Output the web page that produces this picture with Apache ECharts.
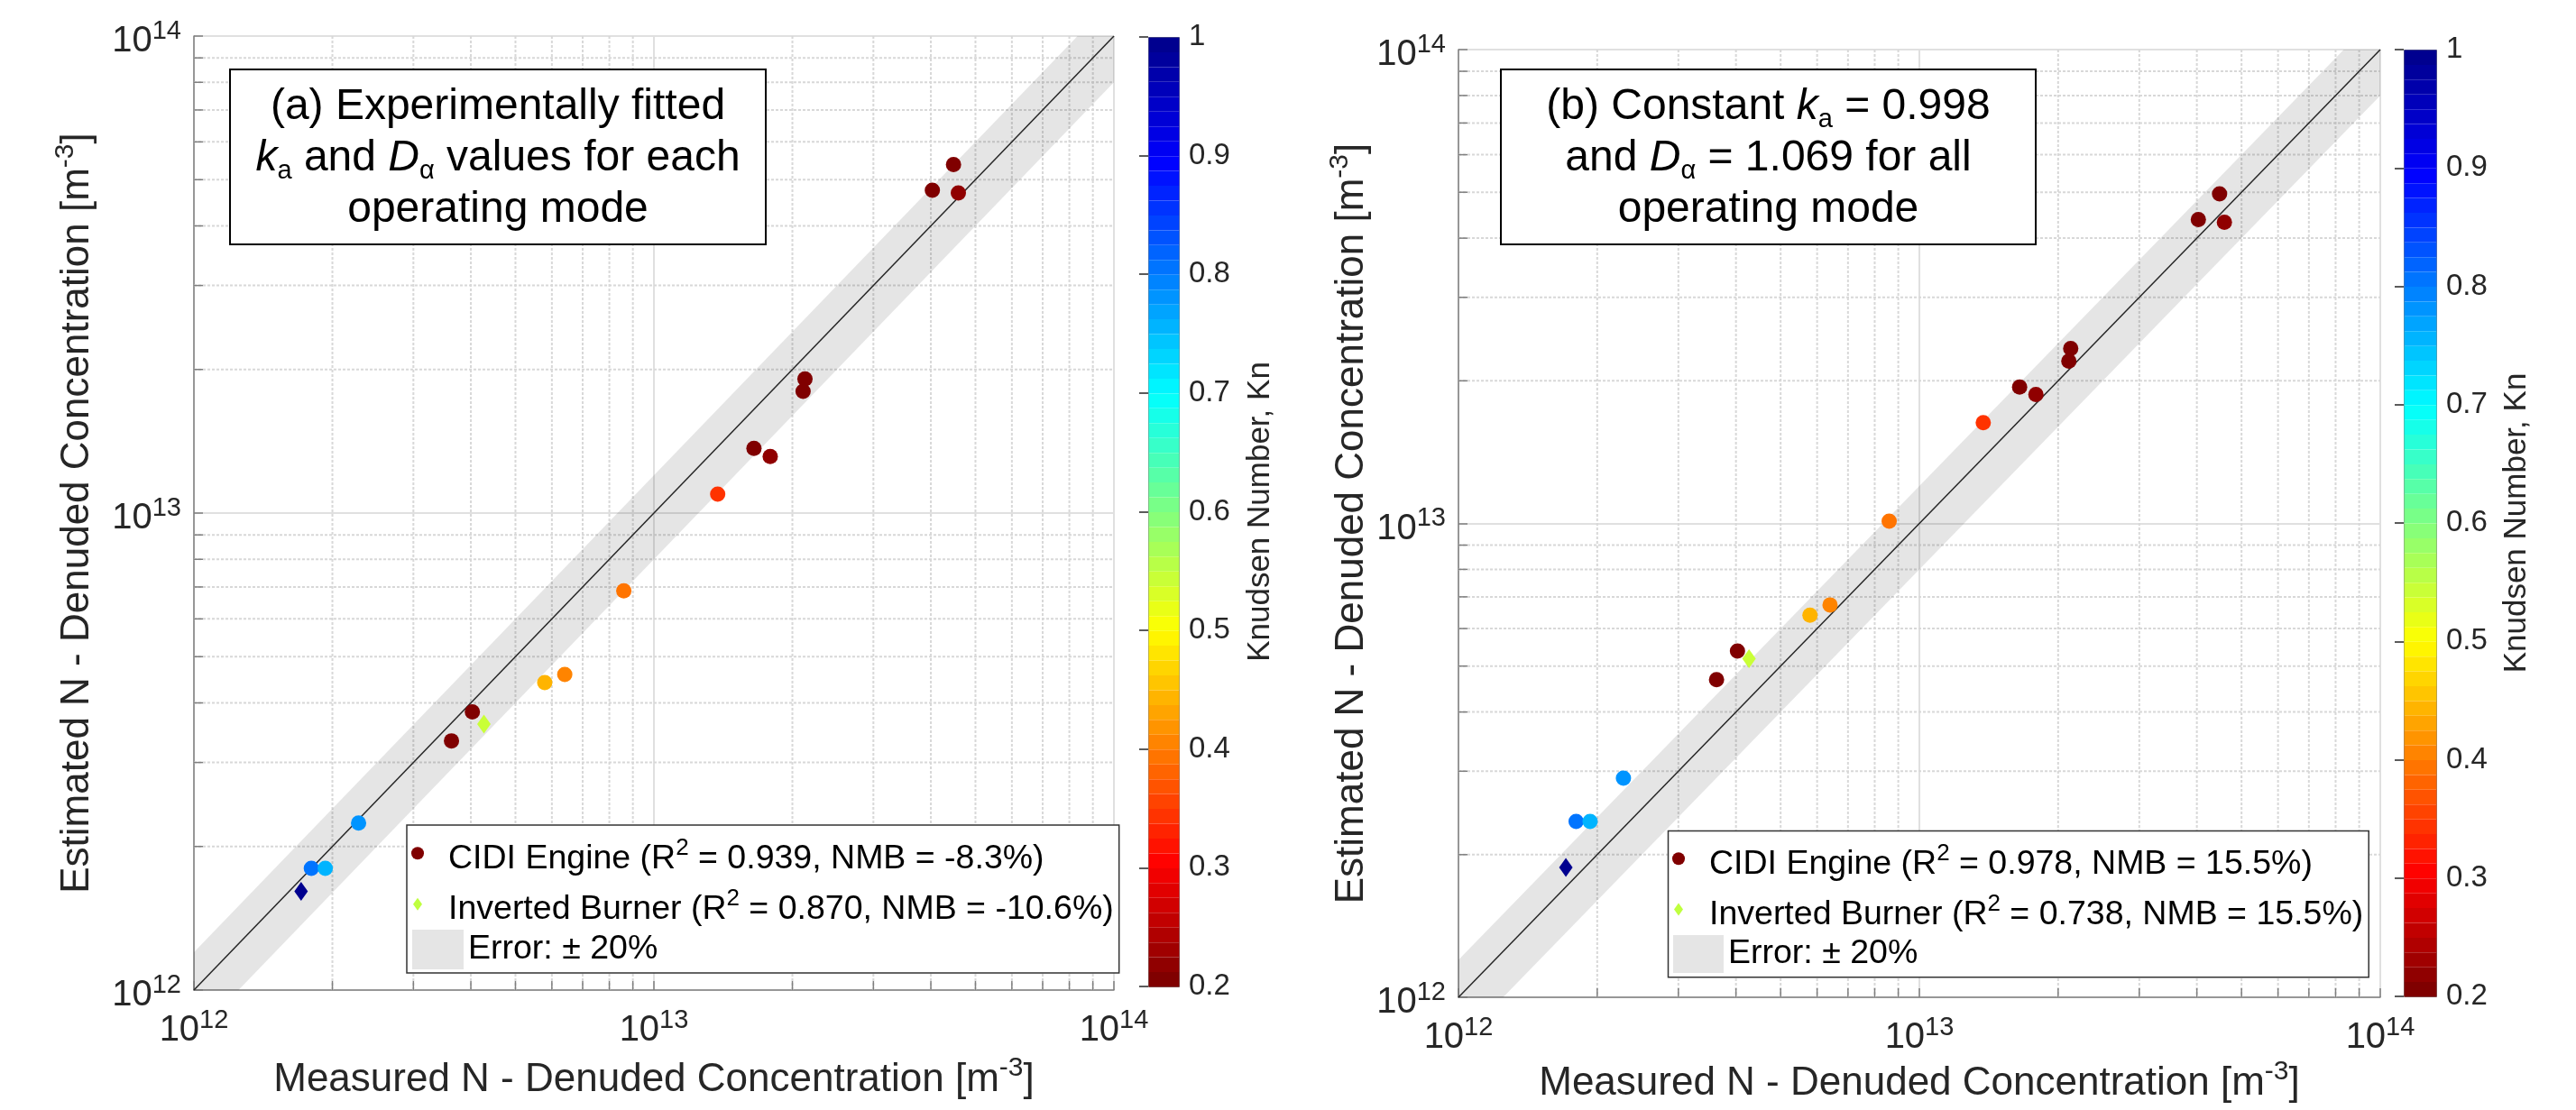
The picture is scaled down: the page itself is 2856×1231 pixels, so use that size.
<!DOCTYPE html>
<html><head><meta charset="utf-8">
<script src="https://cdn.jsdelivr.net/npm/echarts@6/dist/echarts.min.js"></script>
<style>html,body{margin:0;padding:0;background:#fff}#c{width:2856px;height:1231px}</style>
</head><body><div id="c"></div>
<script>
const FONT = '"Liberation Sans", Arial, Helvetica, sans-serif';

// ---- data ----
const cidiMeasured   = [1.80e12, 1.93e12, 2.28e12, 3.63e12, 4.03e12, 5.79e12, 6.40e12, 8.60e12, 1.376e13, 1.65e13, 1.79e13, 2.13e13, 2.11e13, 4.03e13, 4.48e13, 4.59e13];
const cidiKn         = [0.80, 0.76, 0.785, 0.20, 0.20, 0.44, 0.41, 0.40, 0.34, 0.20, 0.22, 0.20, 0.21, 0.20, 0.20, 0.22];
const cidiEstimatedA = [1.80e12, 1.80e12, 2.24e12, 3.33e12, 3.83e12, 4.41e12, 4.59e12, 6.87e12, 1.096e13, 1.366e13, 1.314e13, 1.91e13, 1.80e13, 4.75e13, 5.38e13, 4.69e13];
const cidiEstimatedB = [2.35e12, 2.35e12, 2.90e12, 4.68e12, 5.38e12, 6.40e12, 6.73e12, 1.011e13, 1.632e13, 1.941e13, 1.872e13, 2.34e13, 2.20e13, 4.38e13, 4.96e13, 4.32e13];
const ibMeasured     = [1.71e12, 4.27e12];
const ibKn           = [1.00, 0.55];
const ibEstimatedA   = [1.61e12, 3.61e12];
const ibEstimatedB   = [1.88e12, 5.18e12];

const axisRange   = [1e12, 1e14];
const majorTicks  = [1e12, 1e13, 1e14];
const minorTicks  = [2e12, 3e12, 4e12, 5e12, 6e12, 7e12, 8e12, 9e12, 2e13, 3e13, 4e13, 5e13, 6e13, 7e13, 8e13, 9e13];
const errorBand   = [0.8, 1.2];           // ±20 %
const knRange     = [0.2, 1.0];
const knTickStep  = 0.1;
const colorLevels = 64;
const jetColors   = ['#800000','#ff0000','#ff8000','#ffff00','#80ff80','#00ffff','#0080ff','#0000ff','#00008f'];

const legendA = ['CIDI Engine (R2 = 0.939, NMB = -8.3%)', 'Inverted Burner (R2 = 0.870, NMB = -10.6%)'];
const legendB = ['CIDI Engine (R2 = 0.978, NMB = 15.5%)', 'Inverted Burner (R2 = 0.738, NMB = 15.5%)'];
const errorName = 'Error: \u00b1 20%';
const xName = 'Measured N - Denuded Concentration';
const yName = 'Estimated N - Denuded Concentration';
const cbName = 'Knudsen Number, Kn';

// ---- helpers ----
const TXT = '#262626';
const tickRich = {
  b: {fontSize: 40, lineHeight: 40, padding: [12,0,0,0], fontFamily: FONT, color: TXT},
  s: {fontSize: 29, lineHeight: 29, verticalAlign: 'top', fontFamily: FONT, color: TXT}
};
const nameRich = {
  b: {fontSize: 44, lineHeight: 44, padding: [12,0,0,0], fontFamily: FONT, color: TXT},
  s: {fontSize: 30, lineHeight: 30, verticalAlign: 'top', fontFamily: FONT, color: TXT}
};
const legRich = {
  t: {fontSize: 37.5, lineHeight: 37.5, padding: [12,0,0,0], fontFamily: FONT, color: '#000'},
  sup: {fontSize: 26, lineHeight: 26, verticalAlign: 'top', fontFamily: FONT, color: '#000'}
};
const logLabel = v => '{b|10}{s|' + Math.round(Math.log10(v)) + '}';
const unitName = base => '{b|' + base + ' [m}{s|-3}{b|]}';
const legFmt = name => {
  const i = name.indexOf('(R2');
  if (i < 0) return '{t|' + name + '}';
  return '{t|' + name.slice(0, i + 2) + '}{sup|2}{t|' + name.slice(i + 3) + '}';
};

function mainAxes(gi, ynameGap, xnameGap) {
  const common = {
    type: 'log', logBase: 10, gridIndex: gi, min: axisRange[0], max: axisRange[1],
    axisLine: {lineStyle: {color: '#7f7f7f', width: 1.5}},
    axisTick: {inside: true, length: 10, lineStyle: {color: '#7f7f7f', width: 1.5}},
    splitLine: {show: true, lineStyle: {color: '#e0e0e0', width: 2}},
    nameLocation: 'middle', nameMoveOverlap: false,
    nameTextStyle: {rich: nameRich, fontFamily: FONT, color: TXT}
  };
  return {
    x: Object.assign({}, common, {
      axisLabel: {margin: 19, formatter: logLabel, rich: tickRich, showMinLabel: true, showMaxLabel: true, hideOverlap: false},
      name: unitName(xName), nameGap: xnameGap
    }),
    y: Object.assign({}, common, {
      axisLabel: {margin: 14, formatter: logLabel, rich: tickRich, showMinLabel: true, showMaxLabel: true, hideOverlap: false},
      name: unitName(yName), nameGap: ynameGap, nameRotate: 90
    })
  };
}

function minorSeries(gi) {
  return {
    type: 'custom', xAxisIndex: gi, yAxisIndex: gi, z: 1, silent: true,
    data: minorTicks.map(v => [v, v]),
    renderItem(params, api) {
      const v = api.value(0);
      const cs = params.coordSys;
      const px = api.coord([v, axisRange[0]])[0];
      const py = api.coord([axisRange[0], v])[1];
      const grid = {stroke: '#d8d8d8', lineWidth: 2, lineDash: [3, 2]};
      const tick = {stroke: '#7f7f7f', lineWidth: 1.5};
      return {type: 'group', children: [
        {type: 'line', shape: {x1: px, y1: cs.y, x2: px, y2: cs.y + cs.height}, style: grid},
        {type: 'line', shape: {x1: cs.x, y1: py, x2: cs.x + cs.width, y2: py}, style: grid},
        {type: 'line', shape: {x1: px, y1: cs.y + cs.height, x2: px, y2: cs.y + cs.height - 10}, style: tick},
        {type: 'line', shape: {x1: cs.x, y1: py, x2: cs.x + 10, y2: py}, style: tick}
      ]};
    }
  };
}
function bandSeries(gi) {
  return {
    type: 'custom', name: errorName, xAxisIndex: gi, yAxisIndex: gi, z: 2, silent: true,
    itemStyle: {color: '#e5e5e5'},
    data: [[axisRange[0], axisRange[0]]],
    renderItem(params, api) {
      const lo = errorBand[0], hi = errorBand[1], a = axisRange[0], b = axisRange[1];
      const pts = [[a, a * hi], [b / hi, b], [b, b], [b, b * lo], [a / lo, a], [a, a]].map(p => api.coord(p));
      return {type: 'polygon', shape: {points: pts}, style: {fill: 'rgba(0,0,0,0.1)'}};
    }
  };
}
function diagSeries(gi) {
  return {type: 'line', xAxisIndex: gi, yAxisIndex: gi, z: 3, silent: true, symbol: 'none',
    data: [[axisRange[0], axisRange[0]], [axisRange[1], axisRange[1]]],
    lineStyle: {color: '#262626', width: 1.5}};
}
function scatter(gi, name, xs, ys, ks, symbol, size, color) {
  return {type: 'scatter', name, xAxisIndex: gi, yAxisIndex: gi, z: 5, symbol, symbolSize: size,
    itemStyle: {color, opacity: 1}, data: xs.map((x, i) => [x, ys[i], ks[i]])};
}

const axA = mainAxes(0, 113, 72);
const axB = mainAxes(1, 102, 68);

function cbAxis(gi, gap) {
  return {type: 'value', gridIndex: gi, position: 'right', min: knRange[0], max: knRange[1], interval: knTickStep, z: 10,
    axisLine: {show: false}, splitLine: {show: false},
    axisTick: {show: true, inside: true, length: 10, lineStyle: {color: TXT, width: 1.5}},
    axisLabel: {margin: 11, fontSize: 33, color: TXT, fontFamily: FONT,
      formatter: v => (Math.abs(v - 1) < 1e-6 ? '1' : v.toFixed(1))},
    name: cbName, nameLocation: 'middle', nameRotate: 90, nameGap: gap, nameMoveOverlap: false,
    nameTextStyle: {fontSize: 35, color: TXT, fontFamily: FONT}};
}
function cbVisual(series, left, top, w, h) {
  return {type: 'piecewise', seriesIndex: series, dimension: 2, min: knRange[0], max: knRange[1],
    splitNumber: colorLevels, inRange: {color: jetColors}, left, top, itemWidth: w, itemHeight: h / colorLevels,
    itemGap: 0, itemSymbol: 'rect', showLabel: false, selectedMode: false, text: null,
    padding: 0, borderWidth: 1, borderColor: '#7f7f7f', hoverLink: false, z: 1, orient: 'vertical'};
}
function legendPair(names, left, top, pad, gap) {
  return {data: [
      {name: names[0], icon: 'circle', itemStyle: {color: '#800000'}},
      {name: names[1], icon: 'path://M5,0L10,7L5,14L0,7Z', itemStyle: {color: '#bfff3f'}}],
    orient: 'vertical', left, top, padding: pad, itemWidth: 58, itemHeight: 14, itemGap: gap,
    backgroundColor: '#fff', borderColor: '#333', borderWidth: 1.5, selectedMode: false,
    textStyle: {fontFamily: FONT, fontSize: 37.5, color: '#000', rich: legRich}, formatter: legFmt};
}
function legendErr(left, top, w, h) {
  return {data: [{name: errorName, icon: 'rect', itemStyle: {color: '#e5e5e5'}}], left, top, padding: 0,
    itemWidth: w, itemHeight: h, selectedMode: false, z: 6,
    textStyle: {fontFamily: FONT, fontSize: 37.5, color: '#000'}};
}

const boxRich = {
  r: {fontSize: 48, lineHeight: 57, fontFamily: FONT, color: '#000'},
  i: {fontSize: 48, lineHeight: 57, fontStyle: 'italic', fontFamily: FONT, color: '#000'},
  s: {fontSize: 29, lineHeight: 20, verticalAlign: 'bottom', fontFamily: FONT, color: '#000'}
};
const boxTextA = ['{r|(a) Experimentally fitted}', '{i|k}{s|a}{r| and }{i|D}{s|\u03b1}{r| values for each}', '{r|operating mode}'].join('\n');
const boxTextB = ['{r|(b) Constant }{i|k}{s|a}{r| = 0.998}', '{r|and }{i|D}{s|\u03b1}{r| = 1.069 for all}', '{r|operating mode}'].join('\n');

const option = {
  animation: false,
  backgroundColor: '#fff',
  grid: [
    {left: 215, top: 40, width: 1020, height: 1058, outerBoundsMode: 'none'},
    {left: 1617, top: 55, width: 1022, height: 1051, outerBoundsMode: 'none'},
    {left: 1273, top: 41, width: 34, height: 1053, outerBoundsMode: 'none'},
    {left: 2665, top: 55, width: 36, height: 1050, outerBoundsMode: 'none'}
  ],
  xAxis: [axA.x, axB.x,
    {type: 'value', gridIndex: 2, show: false, min: 0, max: 1},
    {type: 'value', gridIndex: 3, show: false, min: 0, max: 1}],
  yAxis: [axA.y, axB.y, cbAxis(2, 73), cbAxis(3, 72)],
  visualMap: [cbVisual([3, 4], 1273, 41, 34, 1053), cbVisual([8, 9], 2665, 55, 36, 1050)],
  legend: [
    legendPair(legendA, 451, 915, [6.25, 6, 51.25, 5], 6.5),
    legendErr(457, 1031, 57, 44),
    legendPair(legendB, 1849.5, 921.6, [5.65, 6, 50.25, 4.5], 6.2),
    legendErr(1855, 1037, 56, 42)
  ],
  series: [
    minorSeries(0), bandSeries(0), diagSeries(0),
    scatter(0, legendA[0], cidiMeasured, cidiEstimatedA, cidiKn, 'circle', 17, '#800000'),
    scatter(0, legendA[1], ibMeasured, ibEstimatedA, ibKn, 'diamond', [15, 21], '#bfff3f'),
    minorSeries(1), bandSeries(1), diagSeries(1),
    scatter(1, legendB[0], cidiMeasured, cidiEstimatedB, cidiKn, 'circle', 17, '#800000'),
    scatter(1, legendB[1], ibMeasured, ibEstimatedB, ibKn, 'diamond', [15, 21], '#bfff3f')
  ],
  graphic: [
    {type: 'rect', z: 10, shape: {x: 255, y: 77, width: 594, height: 194}, style: {fill: '#fff', stroke: '#000', lineWidth: 2}},
    {type: 'text', z: 11, x: 552, y: 176, style: {text: boxTextA, rich: boxRich, align: 'center', verticalAlign: 'middle', fontFamily: FONT, fontSize: 48}},
    {type: 'rect', z: 10, shape: {x: 1664, y: 77, width: 593, height: 194}, style: {fill: '#fff', stroke: '#000', lineWidth: 2}},
    {type: 'text', z: 11, x: 1960.5, y: 176, style: {text: boxTextB, rich: boxRich, align: 'center', verticalAlign: 'middle', fontFamily: FONT, fontSize: 48}}
  ]
};
const chart = echarts.init(document.getElementById('c'), null, {renderer: 'canvas'});
chart.setOption(option);
</script></body></html>
